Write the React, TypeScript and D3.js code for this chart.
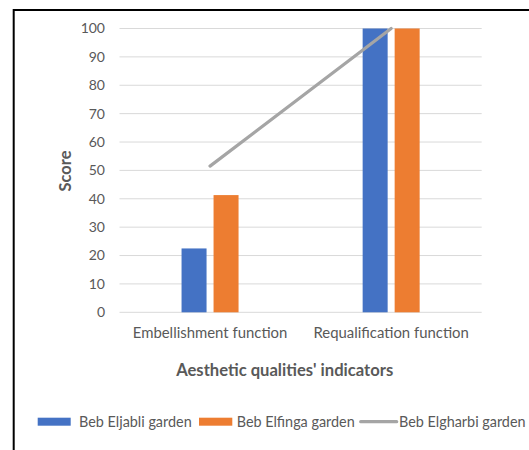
import React, { useEffect, useRef } from "react";
import * as d3 from "d3";

const categories = ["Embellishment function", "Requalification function"];
const barSeries = ["Beb Eljabli garden", "Beb Elfinga garden"];
const eljabli = [22.5, 100];
const elfinga = [41.3, 100];
const elgharbi = [51.5, 100];
const lineSeries = "Beb Elgharbi garden";
const yTicks = [0, 10, 20, 30, 40, 50, 60, 70, 80, 90, 100];
const yTitle = "Score";
const xTitle = "Aesthetic qualities' indicators";

const COLORS = ["#4472C4", "#ED7D31"];
const LINE_COLOR = "#A5A5A5";
const FONT = "Lato, 'Open Sans', sans-serif";

export default function App() {
  const ref = useRef<SVGSVGElement | null>(null);

  useEffect(() => {
    const svg = d3.select(ref.current);
    svg.selectAll("*").remove();

    const left = 119.5, right = 481.7, top = 28.5, bottom = 312.3;

    // frame
    svg.append("rect")
      .attr("x", 13.7).attr("y", 10)
      .attr("width", 600).attr("height", 500)
      .attr("fill", "white").attr("stroke", "#000").attr("stroke-width", 2);

    const x = d3.scaleBand<string>().domain(categories).range([left, right]).padding(0);
    const y = d3.scaleLinear().domain([0, 100]).range([bottom, top]);

    // grid
    svg.append("g").selectAll("line").data(yTicks).enter().append("line")
      .attr("x1", left).attr("x2", right)
      .attr("y1", d => y(d)).attr("y2", d => y(d))
      .attr("stroke", "#D9D9D9").attr("stroke-width", 1);

    // y tick labels
    svg.append("g").selectAll("text").data(yTicks).enter().append("text")
      .attr("x", 105).attr("y", d => y(d))
      .attr("dy", "0.35em")
      .attr("text-anchor", "end")
      .attr("font-family", FONT).attr("font-size", 14).attr("fill", "#595959")
      .text(d => String(d));

    // bars
    const values = [eljabli, elfinga];
    categories.forEach((cat, ci) => {
      const c = (x(cat) as number) + x.bandwidth() / 2;
      const sub = d3.scaleBand<string>().domain(barSeries)
        .range([c - 28.5, c + 28.5]).paddingInner(7 / 32).paddingOuter(0);
      barSeries.forEach((s, si) => {
        const v = values[si][ci];
        svg.append("rect")
          .attr("x", sub(s) as number)
          .attr("y", y(v))
          .attr("width", sub.bandwidth())
          .attr("height", y(0) - y(v))
          .attr("fill", COLORS[si]);
      });
    });

    // line
    const line = d3.line<number>()
      .x((_, i) => (x(categories[i]) as number) + x.bandwidth() / 2)
      .y(d => y(d));
    svg.append("path")
      .attr("d", line(elgharbi) as string)
      .attr("fill", "none").attr("stroke", LINE_COLOR).attr("stroke-width", 3.2)
      .attr("stroke-linecap", "round");

    // x category labels
    svg.append("g").selectAll("text").data(categories).enter().append("text")
      .attr("x", d => (x(d) as number) + x.bandwidth() / 2)
      .attr("y", 333).attr("dy", "0.35em")
      .attr("text-anchor", "middle")
      .attr("font-family", FONT).attr("font-size", 14.9).attr("fill", "#595959")
      .text(d => d);

    // axis titles
    svg.append("text")
      .attr("x", 284.7).attr("y", 370).attr("dy", "0.35em")
      .attr("text-anchor", "middle")
      .attr("font-family", FONT).attr("font-size", 16.6).attr("font-weight", "bold")
      .attr("fill", "#595959")
      .text(xTitle);

    svg.append("text")
      .attr("transform", "translate(65,171) rotate(-90)")
      .attr("dy", "0.35em")
      .attr("text-anchor", "middle")
      .attr("font-family", FONT).attr("font-size", 16.4).attr("font-weight", "bold")
      .attr("fill", "#595959")
      .text(yTitle);

    // legend
    const ly = 421.7;
    const legend = svg.append("g");
    const items = [
      { label: barSeries[0], type: "bar", color: COLORS[0], sx: 37.7, sw: 33, tx: 79 },
      { label: barSeries[1], type: "bar", color: COLORS[1], sx: 199, sw: 33.3, tx: 236.7 },
      { label: lineSeries, type: "line", color: LINE_COLOR, sx: 360.7, sw: 36, tx: 399 },
    ];
    items.forEach(it => {
      if (it.type === "bar") {
        legend.append("rect").attr("x", it.sx).attr("y", ly - 4).attr("width", it.sw).attr("height", 8)
          .attr("fill", it.color);
      } else {
        legend.append("line").attr("x1", it.sx).attr("x2", it.sx + it.sw)
          .attr("y1", ly).attr("y2", ly)
          .attr("stroke", it.color).attr("stroke-width", 3.2).attr("stroke-linecap", "round");
      }
      legend.append("text").attr("x", it.tx).attr("y", ly).attr("dy", "0.35em")
        .attr("font-family", FONT).attr("font-size", 14.4).attr("fill", "#595959")
        .text(it.label);
    });
  }, []);

  return (
    <svg
      ref={ref}
      width={529}
      height={450}
      style={{ position: "absolute", left: 0, top: 0, background: "white" }}
    />
  );
}
